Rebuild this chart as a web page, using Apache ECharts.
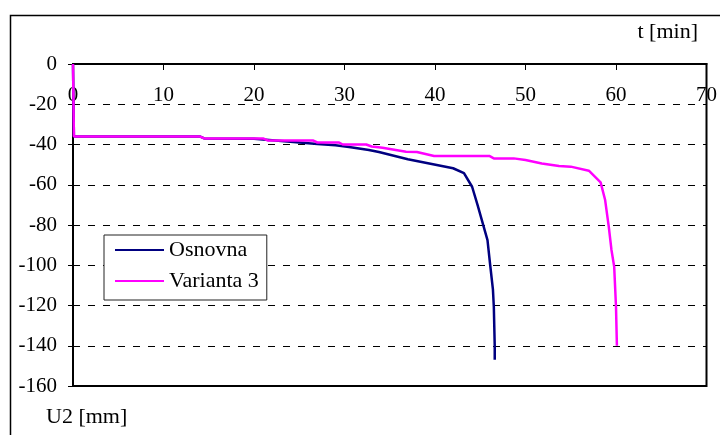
<!DOCTYPE html>
<html>
<head>
<meta charset="utf-8">
<script src="https://cdn.jsdelivr.net/npm/echarts@6/dist/echarts.min.js"></script>
<style>
  html, body { margin: 0; padding: 0; background: #fff; }
  #chart { width: 720px; height: 435px; }
</style>
</head>
<body>
<div id="chart"></div>
<script>
// Displacement U2 [mm] over time t [min]
const seriesNames = ['Osnovna', 'Varianta 3'];

const osnovna = [
  [0, 0], [0.1, -36], [14, -36], [14.5, -37], [20, -37.2], [24, -38.6],
  [27, -39.8], [29, -40.4], [30.5, -41.2], [32.7, -42.7], [33.8, -43.7],
  [37, -47.3], [42, -51.8], [43.2, -54.2], [44.1, -61], [44.7, -70],
  [45.8, -87.5], [46.1, -100], [46.4, -112], [46.5, -120.6], [46.6, -140],
  [46.6, -147]
];

const varianta3 = [
  [0, 0], [0.1, -36], [14, -36], [14.5, -37], [21, -37], [21.5, -38],
  [26.5, -38], [27, -39], [29.4, -39], [29.8, -40], [32.4, -40], [33, -41],
  [34.2, -41.6], [36.8, -43.6], [38, -43.7], [39.9, -45.7], [46, -45.7],
  [46.5, -46.9], [48.7, -46.9], [50, -47.7], [51.8, -49.4], [53.7, -50.7],
  [55, -51], [57, -53], [58.3, -58.8], [58.8, -67.6], [59.2, -80.8],
  [59.5, -92.4], [59.8, -100.7], [60, -120.6], [60.1, -140]
];

const xTicks = { min: 0, max: 70, interval: 10 };
const yTicks = { min: -160, max: 0, interval: 20 };

const FONT = "'Liberation Serif', 'Times New Roman', serif";
const chart = echarts.init(document.getElementById('chart'), null, { renderer: 'canvas' });

chart.setOption({
  backgroundColor: '#fff',
  animation: false,
  textStyle: { fontFamily: FONT, color: '#000' },
  grid: {
    left: 73, top: 64, width: 635, height: 322,
    show: true, borderColor: '#000', borderWidth: 2, backgroundColor: 'transparent'
  },
  xAxis: {
    type: 'value', position: 'top',
    min: xTicks.min, max: xTicks.max, interval: xTicks.interval,
    axisLine: { show: true, onZero: false, lineStyle: { color: '#000', width: 2 } },
    axisTick: { show: true, inside: true, length: 6, lineStyle: { color: '#000', width: 1 } },
    axisLabel: {
      inside: true, margin: 21, color: '#000', fontFamily: FONT, fontSize: 21,
      showMinLabel: true, showMaxLabel: true
    },
    splitLine: { show: false }
  },
  yAxis: {
    type: 'value',
    min: yTicks.min, max: yTicks.max, interval: yTicks.interval,
    axisLine: { show: true, onZero: false, lineStyle: { color: '#000', width: 2 } },
    axisTick: { show: true, inside: false, length: 5, lineStyle: { color: '#000', width: 1 } },
    axisLabel: {
      margin: 16, color: '#000', fontFamily: FONT, fontSize: 21,
      showMinLabel: true, showMaxLabel: true
    },
    splitLine: { show: true, lineStyle: { color: '#000', width: 1, type: [7, 8] } }
  },
  legend: {
    orient: 'vertical', left: 104, top: 235,
    data: seriesNames,
    icon: 'rect',
    backgroundColor: '#fff', borderColor: '#222', borderWidth: 1,
    padding: [4, 8, 8, 11], itemGap: 9, itemWidth: 49, itemHeight: 2,
    textStyle: { fontFamily: FONT, fontSize: 22, color: '#000', lineHeight: 22 }
  },
  graphic: [
    {
      type: 'rect', z: -1, silent: true,
      shape: { x: 10.5, y: 15.5, width: 730, height: 440 },
      style: { fill: 'none', stroke: '#000', lineWidth: 1.5 }
    },
    {
      type: 'text', right: 22, top: 21,
      style: { text: 't [min]', font: "22px " + FONT, fill: '#000' }
    },
    {
      type: 'text', left: 46, top: 406,
      style: { text: 'U2 [mm]', font: "22px " + FONT, fill: '#000' }
    }
  ],
  series: [
    {
      name: seriesNames[0], type: 'line', data: osnovna,
      symbol: 'none', smooth: false,
      lineStyle: { color: '#000080', width: 2.5 }, itemStyle: { color: '#000080' }
    },
    {
      name: seriesNames[1], type: 'line', data: varianta3,
      symbol: 'none', smooth: false,
      lineStyle: { color: '#ff00ff', width: 2.5 }, itemStyle: { color: '#ff00ff' }
    }
  ]
});
</script>
</body>
</html>
